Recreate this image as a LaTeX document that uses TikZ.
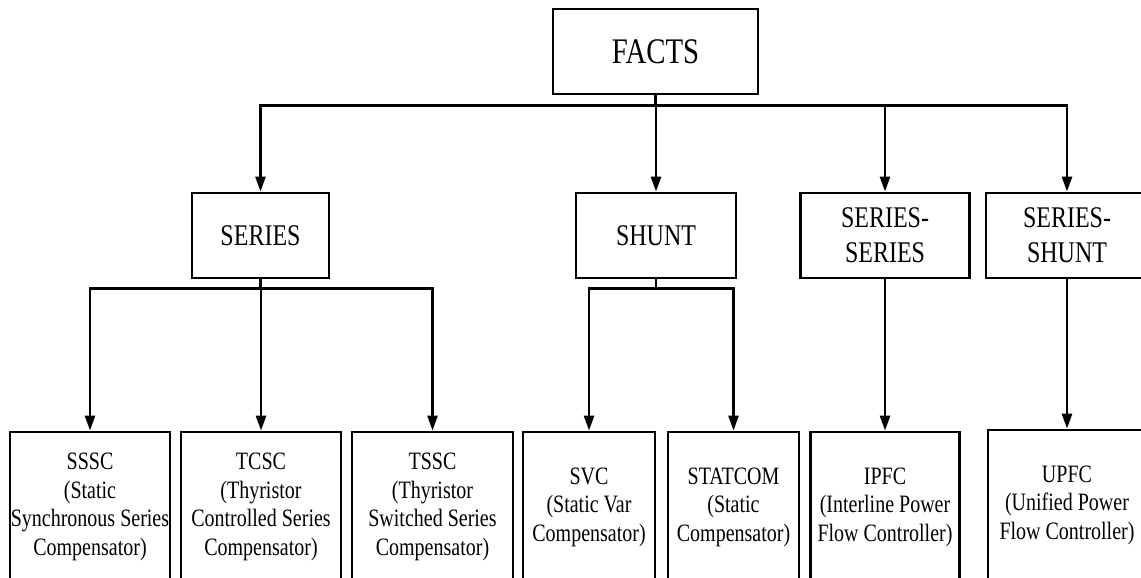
\documentclass[tikz,border=0pt]{standalone}
\usepackage{fontspec}
\setmainfont{Liberation Serif}[FakeStretch=0.8]
\usetikzlibrary{arrows.meta}
\begin{document}
\begin{tikzpicture}[x=1pt,y=1pt,
  box/.style={draw, line width=2.8pt, inner sep=0pt, align=center, anchor=center},
  topbox/.style={box, minimum width=205pt, minimum height=85pt, font=\fontsize{36}{42}\selectfont},
  midbox/.style={box, minimum height=85pt, font=\fontsize{30}{35}\selectfont},
  leafbox/.style={box, minimum height=150pt, font=\fontsize{25}{28.5}\selectfont},
  conn/.style={line width=2.6pt},
  arr/.style={conn, -{Triangle[length=15pt,width=10pt]}}]
\useasboundingbox (0,0) rectangle (1141,-578);
\clip (0,0) rectangle (1141,-578);
\fill[white] (0,0) rectangle (1141,-578);

% root
\node[topbox] (facts) at (655.5,-51.5) {FACTS};

% second level
\node[midbox, minimum width=137pt] (series)   at (260.5,-235.5) {SERIES};
\node[midbox, minimum width=160pt] (shunt)    at (656,-235.5)   {SHUNT};
\node[midbox, minimum width=169pt] (serser)   at (885,-235.5)   {SERIES-\\SERIES};
\node[midbox, minimum width=162pt] (sershunt) at (1067,-235.5)  {SERIES-\\SHUNT};

% controllers
\node[leafbox, minimum width=160pt] (sssc)    at (90,-507)    {SSSC\\(Static\\Synchronous Series\\Compensator)};
\node[leafbox, minimum width=160pt] (tcsc)    at (261,-507)   {TCSC\\(Thyristor\\Controlled Series\\Compensator)};
\node[leafbox, minimum width=161pt] (tssc)    at (432.5,-507) {TSSC\\(Thyristor\\Switched Series\\Compensator)};
\node[leafbox, minimum width=132pt] (svc)     at (589,-507)   {SVC\\(Static Var\\Compensator)};
\node[leafbox, minimum width=131pt] (statcom) at (733.5,-507) {STATCOM\\(Static\\Compensator)};
\node[leafbox, minimum width=149pt] (ipfc)    at (885,-507)   {IPFC\\(Interline Power\\Flow Controller)};
\node[leafbox, minimum width=158pt] (upfc)    at (1067,-505)  {UPFC\\(Unified Power\\Flow Controller)};

% root bus
\draw[conn] (facts.south) -- ++(0,-10) coordinate (fbus);
\draw[arr] (fbus) -| (series.north);
\draw[arr] (fbus) -| (shunt.north);
\draw[arr] (fbus) -| (serser.north);
\draw[arr] (fbus) -| (sershunt.north);

% series bus
\draw[conn] (series.south) -- ++(0,-9) coordinate (sbus);
\draw[arr] (sbus) -| (sssc.north);
\draw[arr] (sbus) -| (tcsc.north);
\draw[arr] (sbus) -| (tssc.north);

% shunt bus
\draw[conn] (shunt.south) -- ++(0,-9) coordinate (hbus);
\draw[arr] (hbus) -| (svc.north);
\draw[arr] (hbus) -| (statcom.north);

% combined controllers
\draw[arr] (serser.south) -- (ipfc.north);
\draw[arr] (sershunt.south) -- (upfc.north);
\end{tikzpicture}
\end{document}
